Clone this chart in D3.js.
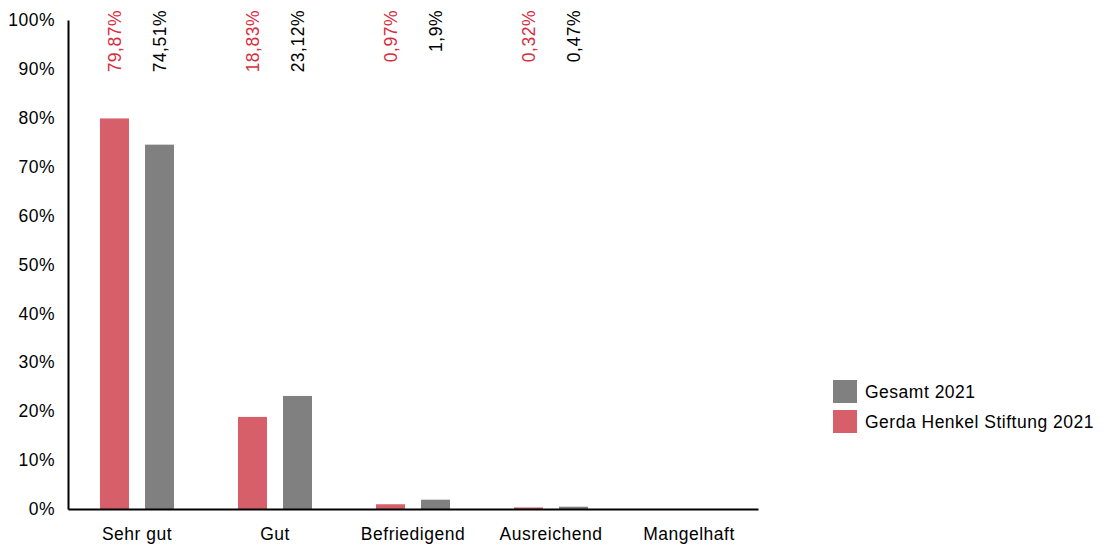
<!DOCTYPE html>
<html><head><meta charset="utf-8">
<script src="https://cdn.jsdelivr.net/npm/d3@7"></script>
<style>body{margin:0;background:#fff;}svg{display:block;font-family:"Liberation Sans",Arial,sans-serif;}text{letter-spacing:0.5px;}</style>
</head><body><svg id="c" width="1106" height="545"></svg>
<script>
const categories = ["Sehr gut","Gut","Befriedigend","Ausreichend","Mangelhaft"];
const seriesNames = ["Gerda Henkel Stiftung 2021","Gesamt 2021"];
const ghsValues = [79.87, 18.83, 0.97, 0.32, 0];
const gesamtValues = [74.51, 23.12, 1.9, 0.47, 0];
const ghsLabels = ["79,87%","18,83%","0,97%","0,32%",""];
const gesamtLabels = ["74,51%","23,12%","1,9%","0,47%",""];
const yTicks = [0,10,20,30,40,50,60,70,80,90,100];

const FS = "17.5px";
const svg = d3.select("#c");
const x = d3.scaleBand().domain(categories).range([68, 758]);
const y = d3.scaleLinear().domain([0,100]).range([509, 20]);
const sub = d3.scaleBand().domain(seriesNames).range([-37,37]).paddingInner(0.356);
const colors = {"Gerda Henkel Stiftung 2021":"#d75f6a","Gesamt 2021":"#808080"};
const textColors = {"Gerda Henkel Stiftung 2021":"#d62e3e","Gesamt 2021":"#000"};

const series = [
  {name: seriesNames[0], values: ghsValues, labels: ghsLabels},
  {name: seriesNames[1], values: gesamtValues, labels: gesamtLabels}
];

series.forEach(s => {
  const g = svg.append("g");
  g.selectAll("rect").data(categories).join("rect")
    .attr("x", (c) => x(c) + x.bandwidth()/2 + sub(s.name))
    .attr("width", sub.bandwidth())
    .attr("y", (c,i) => y(s.values[i]))
    .attr("height", (c,i) => y(0) - y(s.values[i]))
    .attr("fill", colors[s.name]);
  g.selectAll("text").data(categories).join("text")
    .attr("transform", (c) => `translate(${x(c) + x.bandwidth()/2 + sub(s.name) + sub.bandwidth()/2},10) rotate(-90)`)
    .attr("text-anchor","end")
    .attr("dy","0.35em")
    .attr("font-size",FS)
    .attr("fill", textColors[s.name])
    .text((c,i) => s.labels[i]);
});

// axes
const yAxis = svg.append("g").attr("transform","translate(68,0)")
  .call(d3.axisLeft(y).tickValues(yTicks).tickSize(0).tickPadding(13).tickFormat(d => d + "%"));
yAxis.select(".domain").attr("stroke","#000").attr("stroke-width",2);
yAxis.selectAll("text").attr("font-size",FS).attr("fill","#000").attr("font-family","Liberation Sans, Arial, sans-serif");

const xAxis = svg.append("g").attr("transform","translate(0,509)")
  .call(d3.axisBottom(x).tickSize(0).tickPadding(19));
xAxis.select(".domain").attr("stroke","#000").attr("stroke-width",2);
xAxis.selectAll("text").attr("font-size",FS).attr("fill","#000").attr("font-family","Liberation Sans, Arial, sans-serif");

// legend
const legendItems = [seriesNames[1], seriesNames[0]];
const lg = svg.append("g").attr("transform","translate(833,380)");
legendItems.forEach((n,i) => {
  lg.append("rect").attr("x",0).attr("y",i*30).attr("width",24).attr("height",23).attr("fill",colors[n]);
  lg.append("text").attr("x",32).attr("y",i*30+12).attr("dy","0.35em")
    .attr("font-size",FS).attr("fill","#000").text(n);
});
</script></body></html>
